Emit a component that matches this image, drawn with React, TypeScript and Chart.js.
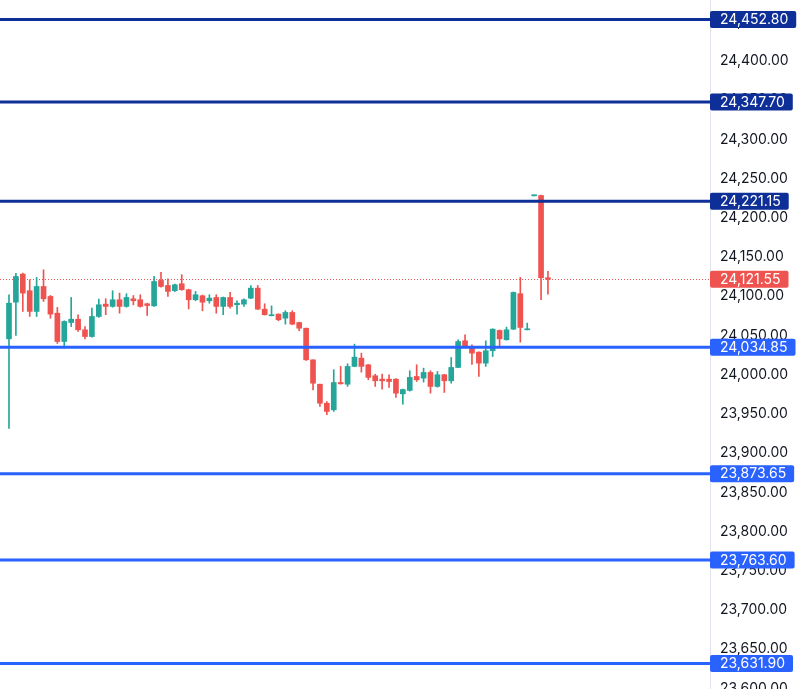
import { useEffect, useRef } from "react"
import { Chart, registerables } from "chart.js"

Chart.register(...registerables)

// OHLC per candle (oldest first)
const opens = [
  24045.7, 24092.4, 24128.2, 24107.0, 24080.6, 24112.4, 24099.7, 24078.4, 24042.3, 24066.5,
  24070.7, 24057.2, 24048.6, 24074.2, 24089.9, 24087.0, 24095.5, 24087.0, 24096.7, 24095.5,
  24090.4, 24087.7, 24120.1, 24113.7, 24107.0, 24115.9, 24108.3, 24095.5, 24100.6, 24094.2,
  24098.4, 24087.0, 24098.4, 24089.1, 24089.9, 24097.5, 24110.3, 24083.5, 24075.1, 24077.2,
  24072.0, 24079.3, 24066.5, 24059.2, 24018.9, 23987.8, 23963.6, 23955.2, 23990.0, 23987.8,
  24010.5, 24021.1, 24012.6, 23998.6, 23994.3, 23994.3, 23994.3, 23975.5, 23979.9, 23997.7,
  23995.6, 24002.8, 23985.0, 23999.9, 23992.2, 24009.2, 24043.2, 24035.1, 24028.7, 24014.7,
  24030.5, 24056.4, 24044.5, 24058.0, 24103.2, 24057.2, 24228.0, 24228.4, 24123.5,
]
const highs = [
  24101.9, 24129.1, 24129.5, 24121.0, 24124.0, 24133.7, 24101.0, 24085.7, 24068.7, 24098.4,
  24076.4, 24061.4, 24084.8, 24096.3, 24096.8, 24107.0, 24104.0, 24103.2, 24100.9, 24101.9,
  24091.1, 24125.2, 24130.3, 24122.2, 24115.5, 24127.4, 24109.0, 24106.1, 24101.5, 24101.9,
  24101.9, 24099.0, 24104.8, 24094.2, 24096.7, 24113.7, 24113.7, 24090.4, 24087.7, 24077.5,
  24081.5, 24081.5, 24067.0, 24059.5, 24019.0, 23988.0, 23965.8, 24006.3, 24010.5, 24013.9,
  24038.9, 24027.4, 24013.0, 24000.6, 24000.6, 23999.8, 23995.0, 23981.5, 24005.0, 24012.6,
  24008.3, 24005.0, 24004.1, 24000.5, 24021.9, 24044.5, 24050.9, 24038.1, 24029.0, 24043.2,
  24058.5, 24057.0, 24060.6, 24105.5, 24124.0, 24065.7, 24228.6, 24229.0, 24131.6,
]
const lows = [
  23931.4, 24050.0, 24080.6, 24074.2, 24074.2, 24093.3, 24072.0, 24039.8, 24033.8, 24061.4,
  24055.1, 24045.7, 24047.7, 24073.0, 24076.4, 24086.0, 24078.4, 24086.0, 24089.0, 24086.0,
  24075.5, 24087.0, 24111.5, 24099.7, 24106.0, 24107.5, 24083.8, 24094.2, 24081.5, 24091.1,
  24078.4, 24076.4, 24084.8, 24077.2, 24087.0, 24097.0, 24083.0, 24076.0, 24075.0, 24068.7,
  24064.4, 24063.6, 24055.9, 24018.0, 23980.7, 23959.5, 23948.9, 23953.1, 23988.0, 23985.0,
  24010.0, 24003.2, 23993.5, 23985.0, 23981.5, 23983.8, 23970.9, 23962.4, 23979.0, 23991.3,
  23990.5, 23976.4, 23984.0, 23977.3, 23989.1, 24009.0, 24035.5, 24013.0, 23997.7, 24010.5,
  24023.2, 24035.5, 24044.0, 24057.5, 24041.4, 24057.0, 24228.0, 24095.5, 24102.6,
]
const closes = [
  24091.1, 24125.2, 24104.0, 24080.6, 24112.4, 24096.7, 24077.2, 24042.3, 24067.8, 24070.7,
  24057.2, 24048.6, 24074.2, 24089.1, 24087.0, 24095.5, 24087.0, 24098.4, 24094.2, 24087.0,
  24088.2, 24118.8, 24112.4, 24106.1, 24114.6, 24108.3, 24095.5, 24101.9, 24092.4, 24097.5,
  24087.0, 24098.4, 24087.0, 24091.1, 24095.5, 24110.3, 24083.5, 24076.4, 24076.4, 24070.0,
  24079.3, 24064.4, 24059.2, 24018.9, 23989.1, 23963.6, 23953.1, 23990.0, 23988.3, 24010.5,
  24022.3, 24010.5, 23996.5, 23992.2, 23992.2, 23991.3, 23976.4, 23981.1, 23996.5, 23993.5,
  24002.8, 23985.0, 23999.9, 23992.2, 24009.2, 24042.3, 24035.9, 24027.4, 24014.7, 24030.5,
  24058.0, 24045.7, 24057.2, 24104.8, 24060.2, 24058.5, 24228.6, 24123.5, 24121.55,
]

const resistanceLevels = [24452.8, 24347.7, 24221.15]
const supportLevels = [24034.85, 23873.65, 23763.6, 23631.9]
const lastPrice = 24121.55

const yTicks = [
  23600, 23650, 23700, 23750, 23800, 23850, 23900, 23950, 24000,
  24050, 24100, 24150, 24200, 24250, 24300, 24350, 24400, 24450,
]

const UP = "#26a69a"
const DOWN = "#ef5350"
const RES_COLOR = "#0e2f97"
const SUP_COLOR = "#2962ff"
const FONT = "Inter"

const fmt = (v: number) =>
  v.toLocaleString("en-US", { minimumFractionDigits: 2, maximumFractionDigits: 2 })

const candleColors = closes.map((c, i) => (c >= opens[i] ? UP : DOWN))

function drawTag(ctx: CanvasRenderingContext2D, x: number, y: number, text: string, bg: string) {
  ctx.font = `14px ${FONT}`
  const w = ctx.measureText(text).width
  ctx.fillStyle = bg
  ctx.beginPath()
  ctx.roundRect(x, y - 8.5, w + 18, 17, 2)
  ctx.fill()
  ctx.fillStyle = "#ffffff"
  ctx.textAlign = "left"
  ctx.textBaseline = "middle"
  ctx.fillText(text, x + 10, y + 0.5)
}

const levelsPlugin = {
  id: "levels",
  beforeDatasetsDraw(chart: any) {
    const { ctx, chartArea, scales } = chart
    const py = Math.round(scales.y.getPixelForValue(lastPrice)) + 0.5
    ctx.save()
    ctx.strokeStyle = DOWN
    ctx.lineWidth = 1
    ctx.setLineDash([1, 2])
    ctx.beginPath()
    ctx.moveTo(chartArea.left, py)
    ctx.lineTo(chartArea.right, py)
    ctx.stroke()
    ctx.restore()
  },
  afterDatasetsDraw(chart: any) {
    const { ctx, chartArea, scales } = chart
    ctx.save()
    ctx.lineWidth = 3
    const draw = (levels: number[], color: string) => {
      ctx.strokeStyle = color
      levels.forEach((v) => {
        const py = scales.y.getPixelForValue(v)
        ctx.beginPath()
        ctx.moveTo(chartArea.left, py)
        ctx.lineTo(chartArea.right, py)
        ctx.stroke()
      })
    }
    draw(resistanceLevels, RES_COLOR)
    draw(supportLevels, SUP_COLOR)
    ctx.restore()
  },
  afterDraw(chart: any) {
    const { ctx, chartArea, scales } = chart
    ctx.save()
    resistanceLevels.forEach((v) =>
      drawTag(ctx, chartArea.right, scales.y.getPixelForValue(v), fmt(v), RES_COLOR))
    supportLevels.forEach((v) =>
      drawTag(ctx, chartArea.right, scales.y.getPixelForValue(v), fmt(v), SUP_COLOR))
    drawTag(ctx, chartArea.right, scales.y.getPixelForValue(lastPrice), fmt(lastPrice), DOWN)
    ctx.restore()
  },
}

export default function App() {
  const chartRef = useRef<HTMLCanvasElement>(null)
  const chartInstance = useRef<Chart | null>(null)

  useEffect(() => {
    if (!chartRef.current) return
    const ctx = chartRef.current.getContext("2d")
    if (!ctx) return

    if (chartInstance.current) {
      chartInstance.current.destroy()
    }

    chartInstance.current = new Chart(ctx, {
      type: "bar",
      data: {
        datasets: [
          {
            label: "wicks",
            data: lows.map((l, i) => ({ x: i, y: [l, highs[i]] })) as any,
            backgroundColor: candleColors,
            barThickness: 1,
            minBarLength: 1,
            grouped: false,
          },
          {
            label: "bodies",
            data: opens.map((o, i) => ({ x: i, y: [o, closes[i]] })) as any,
            backgroundColor: candleColors,
            barThickness: 5,
            minBarLength: 1,
            grouped: false,
          },
        ],
      },
      options: {
        animation: false,
        responsive: true,
        maintainAspectRatio: false,
        layout: { padding: 0 },
        plugins: {
          legend: { display: false },
          tooltip: { enabled: false },
        },
        scales: {
          x: {
            type: "linear",
            display: false,
            offset: false,
            min: -1.3,
            max: 101.45,
          },
          y: {
            position: "right",
            min: 23599.3,
            max: 24477.6,
            grid: { display: false, drawTicks: false },
            border: { display: true, color: "#e0e3eb", width: 1 },
            afterBuildTicks: (scale: any) => {
              scale.ticks = yTicks.map((value) => ({ value }))
            },
            afterFit: (scale: any) => {
              scale.width = 90
              scale.paddingTop = 0
              scale.paddingBottom = 0
            },
            ticks: {
              padding: 10,
              color: "#131722",
              font: { family: FONT, size: 14 },
              callback: (value) => fmt(Number(value)),
            },
          },
        },
      },
      plugins: [levelsPlugin],
    })

    return () => {
      if (chartInstance.current) {
        chartInstance.current.destroy()
        chartInstance.current = null
      }
    }
  }, [])

  return (
    <div style={{ position: "fixed", left: 0, top: 0, width: 800, height: 689, background: "#fff" }}>
      <canvas ref={chartRef}></canvas>
    </div>
  )
}
